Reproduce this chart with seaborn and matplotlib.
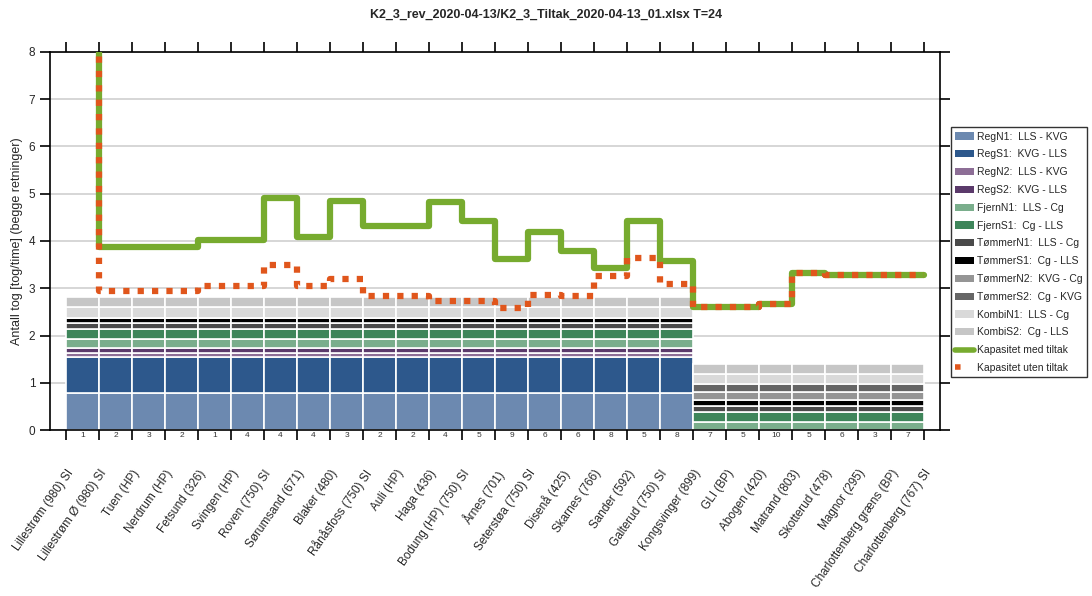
import matplotlib
matplotlib.use("Agg")
import matplotlib.pyplot as plt
import seaborn as sns
import numpy as np
from matplotlib.patches import Patch
from matplotlib.lines import Line2D

sns.set_theme(style="white")
plt.rcParams['font.family'] = ['Liberation Sans', 'DejaVu Sans']

stations = ["Lillestrøm (980) SI", "Lillestrøm Ø (980) SI", "Tuen (HP)", "Nerdrum (HP)", "Fetsund (326)",
            "Svingen (HP)", "Roven (750) SI", "Sørumsand (671)", "Blaker (480)", "Rånåsfoss (750) SI",
            "Auli (HP)", "Haga (436)", "Bodung (HP) (750) SI", "Årnes (701)", "Seterstøa (750) SI",
            "Disenå (425)", "Skarnes (766)", "Sander (592)", "Galterud (750) SI", "Kongsvinger (899)",
            "GLI (BP)", "Abogen (420)", "Matrand (803)", "Skotterud (478)", "Magnor (295)",
            "Charlottenberg græns (BP)", "Charlottenberg (767) SI"]
seg_numbers = [1, 2, 3, 2, 1, 4, 4, 4, 3, 2, 2, 4, 5, 9, 6, 6, 8, 5, 8, 7, 5, 10, 5, 6, 3, 7]

categories = ["RegN1:  LLS - KVG", "RegS1:  KVG - LLS", "RegN2:  LLS - KVG", "RegS2:  KVG - LLS",
              "FjernN1:  LLS - Cg", "FjernS1:  Cg - LLS", "TømmerN1:  LLS - Cg", "TømmerS1:  Cg - LLS",
              "TømmerN2:  KVG - Cg", "TømmerS2:  Cg - KVG", "KombiN1:  LLS - Cg", "KombiS2:  Cg - LLS"]
colors = ["#6c89b0", "#2d588c", "#8d6e96", "#5b3a6b", "#7aae8c", "#3e855a",
          "#4a4a4a", "#000000", "#959595", "#666666", "#d9d9d9", "#c6c6c6"]
# per-category values for the LLS-KVG part (19 segments) and KVG-Cg part (7 segments)
values_lls_kvg = [0.78, 0.77, 0.09, 0.09, 0.19, 0.21, 0.13, 0.12, 0.0, 0.0, 0.22, 0.21]
values_kvg_cg = [0.0, 0.0, 0.0, 0.0, 0.18, 0.21, 0.12, 0.12, 0.17, 0.17, 0.21, 0.21]
n_left, n_right = 19, 7

kap_med = [10, 3.87, 3.87, 3.87, 4.02, 4.02, 4.9, 4.08, 4.85, 4.31, 4.31, 4.83, 4.43, 3.62, 4.2,
           3.79, 3.43, 4.43, 3.58, 2.61, 2.61, 2.66, 3.33, 3.28, 3.28, 3.28]
kap_uten = [10, 2.95, 2.95, 2.95, 3.05, 3.05, 3.5, 3.05, 3.2, 2.84, 2.84, 2.73, 2.73, 2.59, 2.86,
            2.84, 3.26, 3.64, 3.09, 2.61, 2.61, 2.66, 3.33, 3.28, 3.28, 3.28]

fig = plt.figure(figsize=(10.92, 5.96), dpi=100)
ax = fig.add_axes([0.0458, 0.2785, 0.815, 0.6343])

nseg = len(seg_numbers)
xc = np.arange(nseg) + 0.5
bottom = np.zeros(nseg)
for cat, col, vl, vr in zip(categories, colors, values_lls_kvg, values_kvg_cg):
    h = np.array([vl] * n_left + [vr] * n_right)
    ax.bar(xc, h, width=1.0, bottom=bottom, color=col, edgecolor="white", linewidth=1.2, zorder=2)
    bottom += h

edges = np.arange(nseg + 1)
ax.step(edges, kap_med + [kap_med[-1]], where="post", color="#77ab2f", lw=4.5, zorder=3)
ax.step(edges, kap_uten + [kap_uten[-1]], where="post", color="#e0561c", lw=4.5,
        dashes=(1.0, 1.3), zorder=4)

ax.set_xlim(-0.485, 26.48)
ax.set_ylim(0, 8)
ax.set_yticks(range(9))
ax.yaxis.grid(True, color="#d0d0d0", lw=1.2, zorder=0)
ax.set_axisbelow(True)
ax.set_xticks(edges)
ax.set_xticklabels(stations, rotation=55, ha="right", rotation_mode="anchor", fontsize=8.5)
ax.tick_params(axis="x", which="both", bottom=True, top=True, direction="out", length=7, pad=20,
               width=1.2, color="black")
ax.tick_params(axis="y", left=True, right=True, direction="out", length=7, width=1.2,
               labelsize=8.5, color="black")
for s in ax.spines.values():
    s.set_color("black")
    s.set_linewidth(1.2)
for x, n in zip(xc, seg_numbers):
    ax.text(x, -0.05, str(n), ha="center", va="top", fontsize=6, color="#333333")
ax.set_ylabel("Antall tog [tog/time] (begge retninger)", fontsize=9)
fig.suptitle("K2_3_rev_2020-04-13/K2_3_Tiltak_2020-04-13_01.xlsx T=24", fontsize=9,
             fontweight="bold", y=0.985)

handles = [Patch(facecolor=c, edgecolor="none") for c in colors]
handles += [Line2D([], [], color="#77ab2f", lw=4),
            Line2D([], [], color="#e0561c", lw=4, dashes=(1, 2.5))]
labels = categories + ["Kapasitet med tiltak", "Kapasitet uten tiltak"]
leg = fig.legend(handles, labels, loc="upper left", bbox_to_anchor=(0.866, 0.795), fontsize=7.5,
                 frameon=True, fancybox=False, edgecolor="black", labelspacing=0.75,
                 handlelength=1.8, handletextpad=0.3, borderpad=0.4)
leg.get_frame().set_linewidth(1.0)
fig.savefig("out.png", dpi=100)
